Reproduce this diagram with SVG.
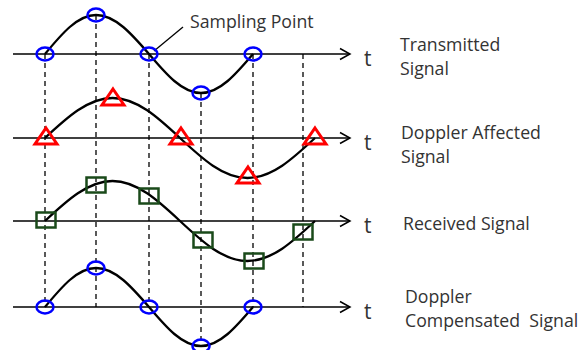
<svg xmlns="http://www.w3.org/2000/svg" width="582" height="350" viewBox="0 0 582 350">
<defs>
<style>
.axis{stroke:#000;stroke-width:1.5;fill:none}
.arr{stroke:#000;stroke-width:1.5;fill:none}
.dash{stroke:#000;stroke-width:1.3;stroke-dasharray:5,4;fill:none}
.wave{stroke:#000;stroke-width:2.3;fill:none}
.circ{stroke:#0000FF;stroke-width:2.5;fill:none}
.tri{stroke:#FF0000;stroke-width:3;fill:none;stroke-linejoin:miter}
.sq{stroke:#1A4A1A;stroke-width:2.5;fill:none}
.lbl{font-family:"Open Sans","Noto Sans","DejaVu Sans",sans-serif;font-size:17.7px;fill:#333}
.t{font-family:"Open Sans","Noto Sans","DejaVu Sans",sans-serif;font-size:21px;fill:#333}
</style>
<path id="wave1" d="M45,54 C61.6,34 77.5,15 96,15 C115.2,15 131.7,34 149,54 C166,74 182.2,93 201,93 C219.8,93 236,74 253,54"/>
<path id="wave2" d="M45,138 C67,117.5 88.1,98 112.5,98 C136.9,98 158,117.5 180,138 C202,158.5 223.1,178 247.5,178 C271.9,178 293,158.5 315,138"/>
<ellipse id="c" cx="0" cy="0" rx="8.5" ry="6.5"/>
<path id="tr" d="M0,-8 L11,8 L-11,8 Z"/>
<rect id="s" x="-9.5" y="-7.5" width="19" height="15"/>
</defs>

<g id="connectors">
<line class="dash" x1="45" y1="54" x2="45" y2="307"/>
<line class="dash" x1="96" y1="15" x2="96" y2="307"/>
<line class="dash" x1="149" y1="54" x2="149" y2="307"/>
<line class="dash" x1="201" y1="93" x2="201" y2="346"/>
<line class="dash" x1="253" y1="54" x2="253" y2="307"/>
<line class="dash" x1="303" y1="54" x2="303" y2="307"/>
<line x1="183" y1="27" x2="154" y2="51" stroke="#000" stroke-width="1.3"/>
</g>

<g id="axis1">
<line class="axis" x1="13" y1="54" x2="350" y2="54"/>
<polyline class="arr" points="340,48.5 350,54 340,59.5"/>
<text class="t" x="364" y="66">t</text>
</g>
<g id="axis2">
<line class="axis" x1="13" y1="138" x2="350" y2="138"/>
<polyline class="arr" points="340,132.5 350,138 340,143.5"/>
<text class="t" x="364" y="150">t</text>
</g>
<g id="axis3">
<line class="axis" x1="13" y1="221" x2="350" y2="221"/>
<polyline class="arr" points="340,215.5 350,221 340,226.5"/>
<text class="t" x="364" y="233">t</text>
</g>
<g id="axis4">
<line class="axis" x1="13" y1="307" x2="350" y2="307"/>
<polyline class="arr" points="340,301.5 350,307 340,312.5"/>
<text class="t" x="364" y="319">t</text>
</g>

<g id="transmitted">
<use href="#wave1" class="wave"/>
<use href="#c" class="circ" x="45" y="54"/>
<use href="#c" class="circ" x="96" y="15"/>
<use href="#c" class="circ" x="149" y="54"/>
<use href="#c" class="circ" x="201" y="93"/>
<use href="#c" class="circ" x="253" y="54"/>
<text class="lbl" x="400" y="51">Transmitted</text>
<text class="lbl" x="400" y="75">Signal</text>
</g>

<g id="sampling-label">
<text class="lbl" x="190" y="28">Sampling Point</text>
</g>

<g id="doppler">
<use href="#wave2" class="wave"/>
<use href="#tr" class="tri" x="46" y="136"/>
<use href="#tr" class="tri" x="113" y="97"/>
<use href="#tr" class="tri" x="181" y="136"/>
<use href="#tr" class="tri" x="248" y="175"/>
<use href="#tr" class="tri" x="315" y="136"/>
<text class="lbl" x="401" y="139">Doppler Affected</text>
<text class="lbl" x="401" y="163">Signal</text>
</g>

<g id="received">
<use href="#wave2" class="wave" transform="translate(0,83)"/>
<use href="#s" class="sq" x="46" y="220"/>
<use href="#s" class="sq" x="96" y="185"/>
<use href="#s" class="sq" x="149" y="196"/>
<use href="#s" class="sq" x="203" y="240"/>
<use href="#s" class="sq" x="254" y="261"/>
<use href="#s" class="sq" x="303" y="232"/>
<text class="lbl" x="403" y="230">Received Signal</text>
</g>

<g id="compensated">
<use href="#wave1" class="wave" transform="translate(0,253)"/>
<use href="#c" class="circ" x="45" y="307"/>
<use href="#c" class="circ" x="96" y="268"/>
<use href="#c" class="circ" x="149" y="307"/>
<use href="#c" class="circ" x="201" y="346"/>
<use href="#c" class="circ" x="253" y="307"/>
<text class="lbl" x="405" y="303">Doppler</text>
<text class="lbl" x="405" y="327" xml:space="preserve">Compensated  Signal</text>
</g>
</svg>
